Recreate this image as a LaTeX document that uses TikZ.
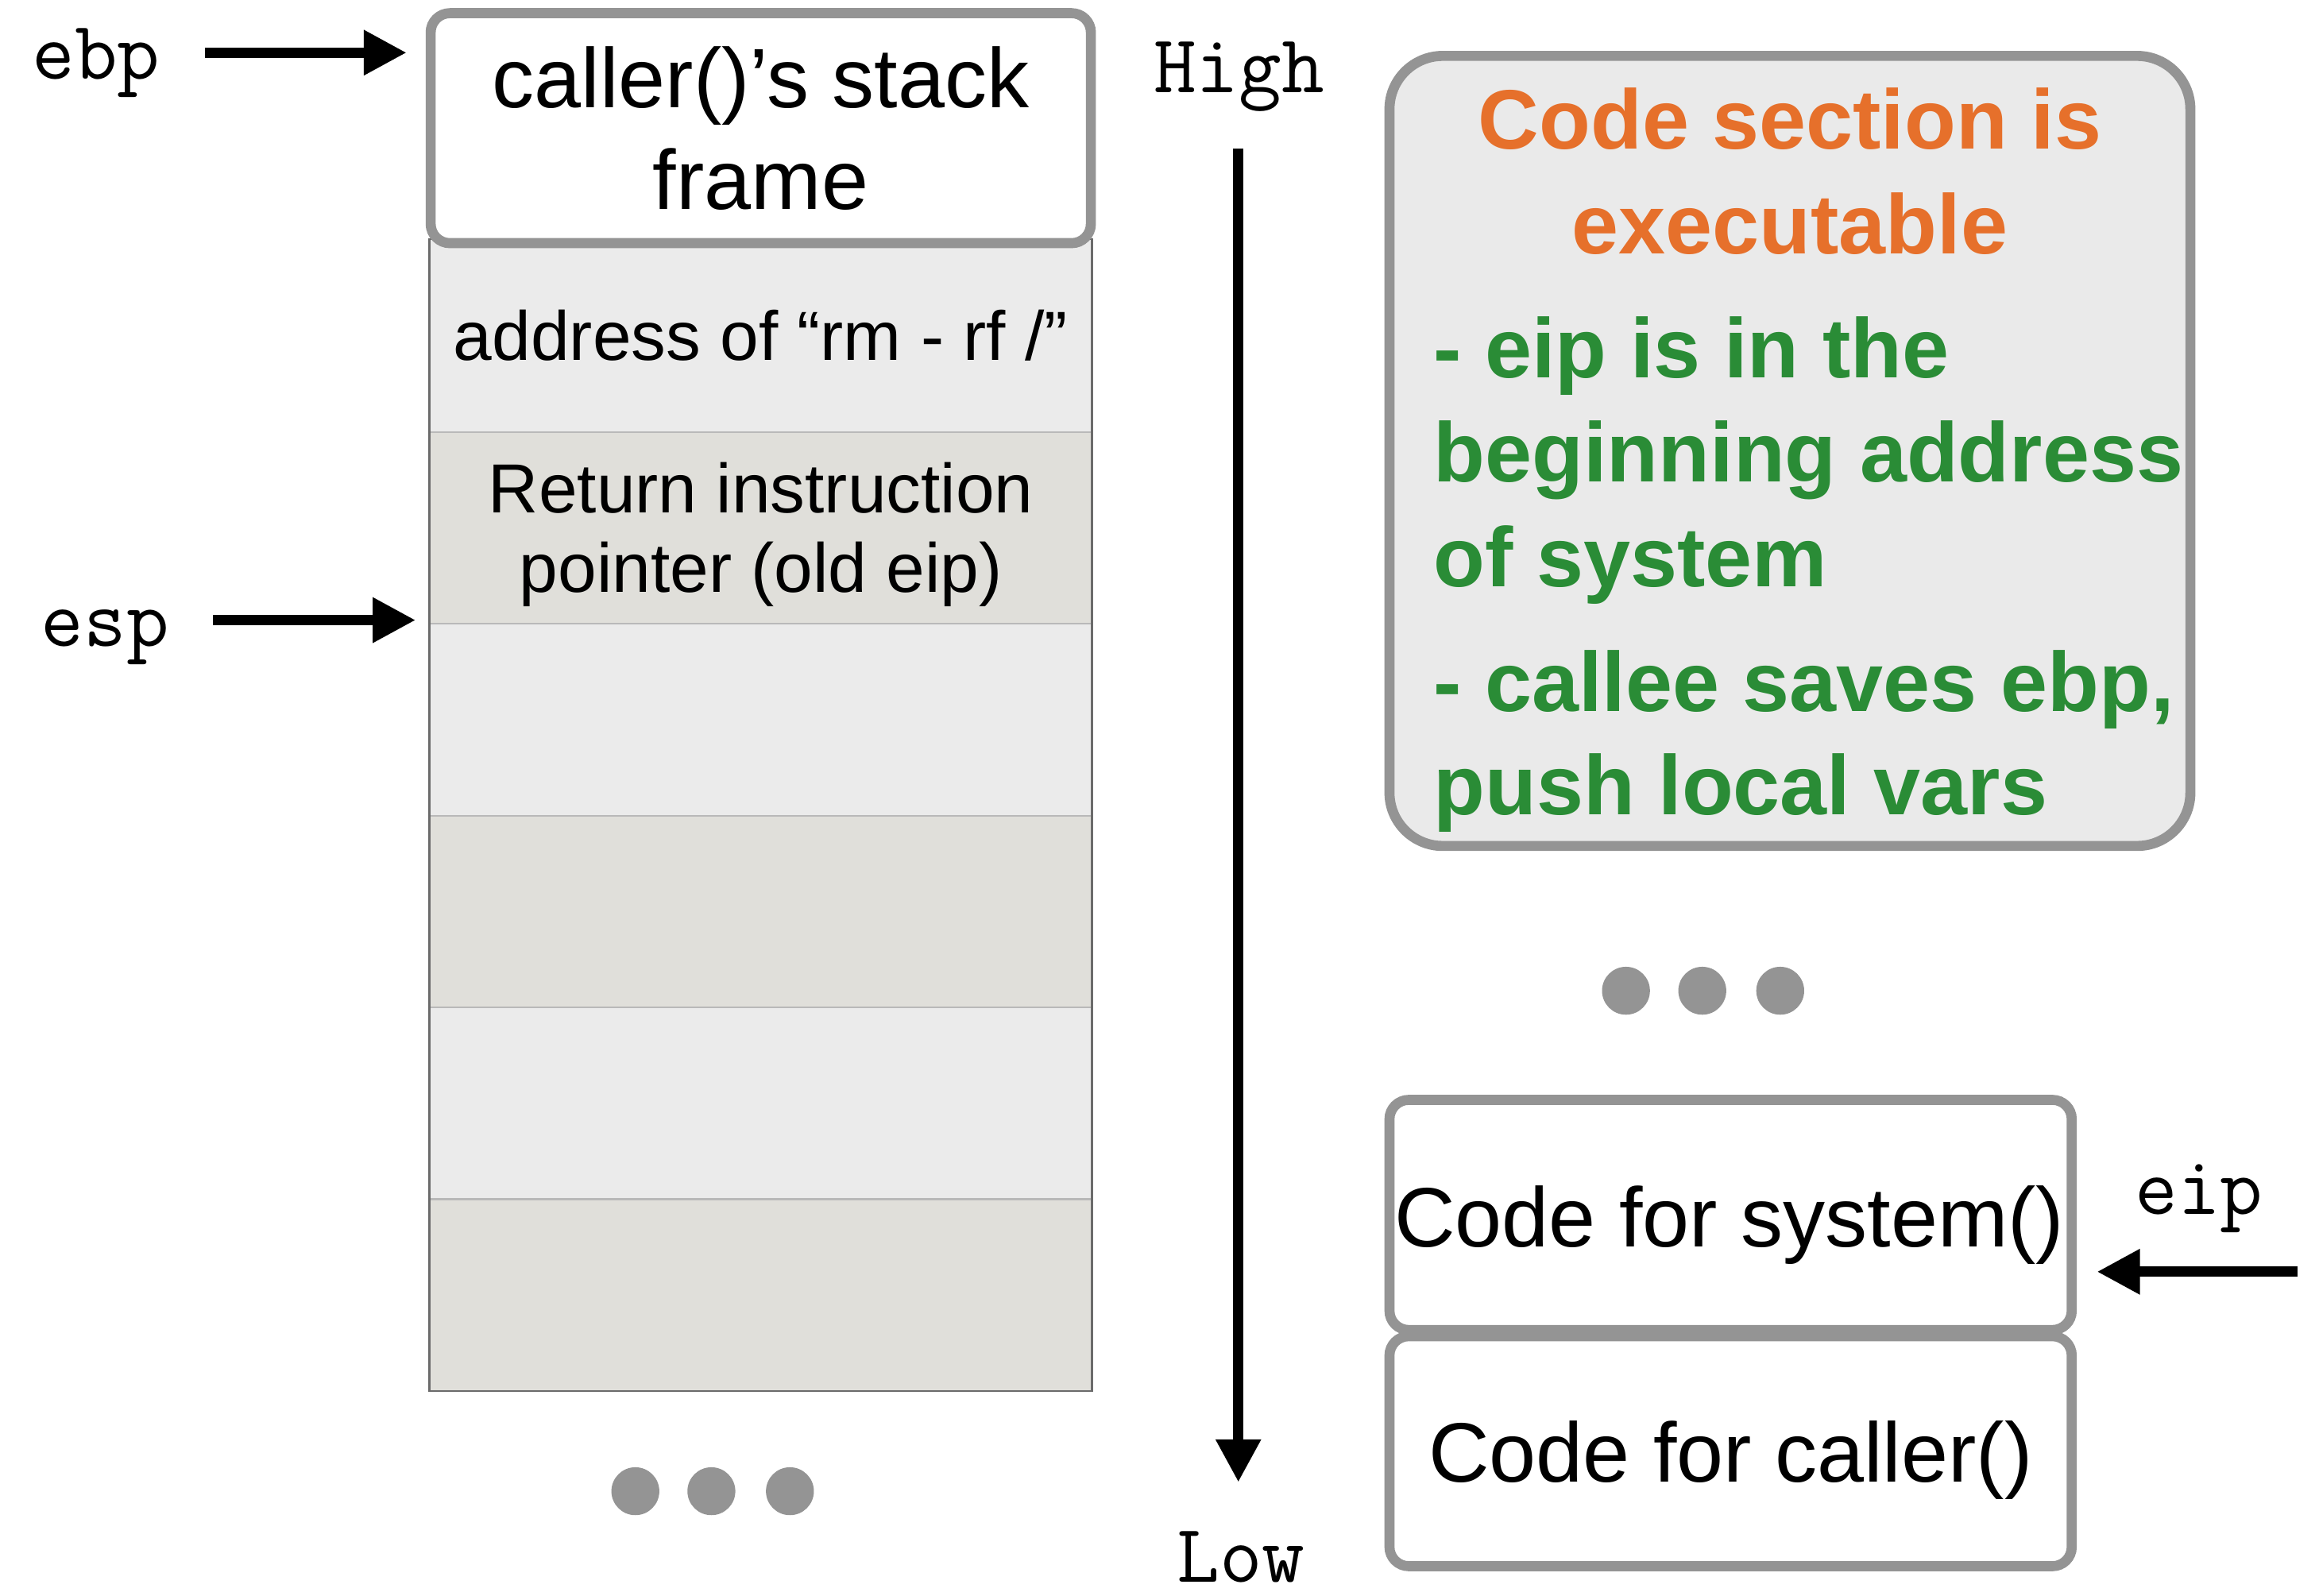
\documentclass[tikz,border=0pt]{standalone}
\usepackage{fontspec}
\setmainfont{Liberation Sans}
\usetikzlibrary{arrows.meta}

\definecolor{boxgray}{HTML}{949494}
\definecolor{rowlight}{HTML}{EBEBEB}
\definecolor{rowdark}{HTML}{E0DFDA}
\definecolor{sepgray}{HTML}{B9B9B9}
\definecolor{edgegray}{HTML}{6B6B6B}
\definecolor{notefill}{HTML}{EAEAEA}
\definecolor{noteorange}{HTML}{E6702B}
\definecolor{notegreen}{HTML}{2A8C36}

\begin{document}
\begin{tikzpicture}[
  x=0.5bp, y=-0.5bp,
  stackrow/.style={rectangle, inner sep=0, minimum width=223.7bp, minimum height=64.85bp},
  lightrow/.style={stackrow, fill=rowlight},
  darkrow/.style={stackrow, fill=rowdark},
  sepline/.style={draw=sepgray, line width=0.6bp},
  stackedge/.style={draw=edgegray, line width=0.7bp},
  framebox/.style={rectangle, draw=boxgray, line width=3.4bp, fill=white, rounded corners=6.5bp, inner sep=0},
  notebox/.style={rectangle, draw=boxgray, line width=3.4bp, fill=notefill, rounded corners=18bp, inner sep=0},
  ptr/.style={line width=3.4bp, -{Triangle[length=14.5bp,width=14.5bp]}},
  reg/.style={font=\ttfamily\fontsize{28bp}{32bp}\selectfont, inner sep=0, anchor=base},
  big/.style={font=\fontsize{28.5bp}{34bp}\selectfont, inner sep=0, anchor=base},
  cell/.style={font=\fontsize{23.5bp}{28bp}\selectfont, inner sep=0, anchor=base},
  notehead/.style={font=\bfseries\fontsize{28.5bp}{34bp}\selectfont, text=noteorange, inner sep=0, anchor=base},
  notebody/.style={font=\bfseries\fontsize{28.5bp}{34bp}\selectfont, text=notegreen, inner sep=0, anchor=base west},
  dot/.style={circle, fill=boxgray, inner sep=0, minimum size=16.2bp}
]
\useasboundingbox (0,0) rectangle (1568,1079);

% ---- stack rows ----
\node[lightrow] (r1) at (514.3,226.85) {};
\node[darkrow]  (r2) at (514.3,356.55) {};
\node[lightrow] (r3) at (514.3,486.25) {};
\node[darkrow]  (r4) at (514.3,615.95) {};
\node[lightrow] (r5) at (514.3,745.65) {};
\node[darkrow]  (r6) at (514.3,875.35) {};
\foreach \a/\b in {r1/r2,r2/r3,r3/r4,r4/r5,r5/r6}
  \draw[sepline] (\a.south west) -- (\a.south east);
\draw[stackedge] (r1.north west) rectangle (r6.south east);

\node[cell] (addr) at (514.3,243.4) {address of “rm - rf /”};
\node[cell] (ret1) at (514.5,346.7) {Return instruction};
\node[cell] (ret2) at (514.5,400.3) {pointer (old eip)};

% ---- caller frame on top of the stack ----
\node[framebox, minimum width=223.2bp, minimum height=77.75bp] (frame) at (514.4,86.65) {};
\node[big] (frame1) at (514.4,73) {caller()’s stack};
\node[big] (frame2) at (514.4,141.5) {frame};

% ---- register pointers on the left ----
\node[reg] (ebp) at (65,53.5) {ebp};
\coordinate (ebpTail) at (138.5,35.6);
\coordinate (ebpTip) at (274.9,35.6);
\draw[ptr] (ebpTail) -- (ebpTip);

\node[reg] (esp) at (71,437) {esp};
\coordinate (espTail) at (144,419.3);
\coordinate (espTip) at (281,419.3);
\draw[ptr] (espTail) -- (espTip);

% ---- continuation dots below the stack ----
\node[dot] (ld1) at (429.6,1008.3) {};
\node[dot] (ld2) at (481,1008.3) {};
\node[dot] (ld3) at (534.1,1008.3) {};

% ---- address direction ----
\node[reg] (high) at (837.7,62.8) {High};
\node[reg] (low) at (839,1070) {Low};
\coordinate (axisTop) at (837.3,100.7);
\coordinate (axisEnd) at (837.3,1002.2);
\draw[ptr] (axisTop) -- (axisEnd);

% ---- note box ----
\node[notebox, minimum width=270.75bp, minimum height=267.1bp] (note) at (1210.25,304.9) {};
\node[notehead] (n1) at (1210.25,100.7) {Code section is};
\node[notehead] (n2) at (1210.25,171.5) {executable};
\node[notebody] (n3) at (969,255.4) {- eip is in the};
\node[notebody] (n4) at (969,326) {beginning address};
\node[notebody] (n5) at (969,396.5) {of system};
\node[notebody] (n6) at (969,481) {- callee saves ebp,};
\node[notebody] (n7) at (969,551) {push local vars};

% ---- continuation dots above the code section ----
\node[dot] (rd1) at (1099.4,669.9) {};
\node[dot] (rd2) at (1151,669.9) {};
\node[dot] (rd3) at (1203.7,669.9) {};

% ---- code section ----
\node[framebox, minimum width=230.65bp, minimum height=77.8bp] (sys) at (1170.15,821.5) {};
\node[big] (systext) at (1169.3,843.2) {Code for system()};
\node[framebox, minimum width=230.65bp, minimum height=77.75bp] (call) at (1170.15,981.25) {};
\node[big] (calltext) at (1170.15,1002.3) {Code for caller()};

\node[reg] (eip) at (1486.8,821.3) {eip};
\coordinate (eipTail) at (1553.6,859.9);
\coordinate (eipTip) at (1417.9,859.9);
\draw[ptr] (eipTail) -- (eipTip);
\end{tikzpicture}
\end{document}
